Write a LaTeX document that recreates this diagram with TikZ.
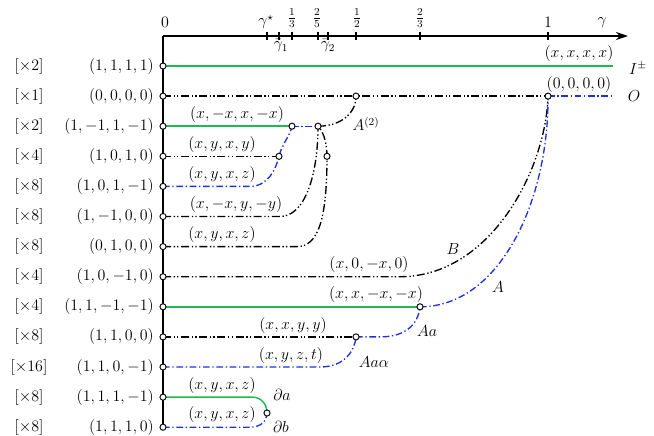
\documentclass[tikz,border=0pt]{standalone}
\usetikzlibrary{arrows.meta}
\definecolor{mygreen}{RGB}{30,185,80}
\definecolor{myblue}{RGB}{30,50,215}
\begin{document}
\begin{tikzpicture}[x=0.75pt,y=-0.75pt,
  every node/.style={font=\large},
  dotnode/.style={circle,draw=black,fill=white,inner sep=0pt,minimum size=4.6pt,line width=0.7pt},
  gline/.style={mygreen,line width=1.1pt},
  bline/.style={myblue,line width=1pt,dash pattern=on 5pt off 2pt on 1pt off 2pt},
  kline/.style={black,line width=1pt,dash pattern=on 6pt off 2pt on 1pt off 1.6pt on 1pt off 2pt},
  axisline/.style={black,line width=1.2pt},
  tickmark/.style={black,line width=0.9pt},
  lbl/.style={inner sep=1pt},
]
\useasboundingbox (0,0) rectangle (654,436);
% axis
\coordinate (O) at (163,36);
\coordinate (xend) at (628,36);
% left points
\foreach \i/\y in {1/66,2/96.1,3/126.2,4/156.3,5/186.4,6/216.5,7/246.6,8/276.7,9/306.8,10/336.9,11/367,12/397.1,13/427.2}
  \coordinate (L\i) at (163,\y);
% junctions
\coordinate (e1) at (613,66);
\coordinate (e2) at (613,96.1);
\coordinate (p2a) at (356,96.1);
\coordinate (p2b) at (548,96.1);
\coordinate (p3a) at (292,126.2);
\coordinate (p3b) at (318,126.2);
\coordinate (p4) at (279,156.3);
\coordinate (p7) at (327,156.3);
\coordinate (p9) at (420,306.8);
\coordinate (p10) at (356,336.9);
\coordinate (p12) at (267,413);

\draw[axisline,-{Stealth[length=9pt,width=6pt]}] (O) -- (xend);
\draw[axisline] (O) -- (L13);
\foreach \v in {267,279,292,318,328,356,420,548}
  \draw[tickmark] (\v,32) -- (\v,40);

\node at (165,22) {$0$};
\node at (266,22) {$\gamma^{\star}$};
\node at (292,18) {$\frac{1}{3}$};
\node at (317,18) {$\frac{2}{5}$};
\node at (357,18) {$\frac{1}{2}$};
\node at (420,18) {$\frac{2}{3}$};
\node at (548,22) {$1$};
\node at (602,23) {$\gamma$};
\node at (281,46) {$\bar\gamma_1$};
\node at (328,46) {$\bar\gamma_2$};

% connectors
\draw[gline] (L1) -- (e1);
\draw[kline] (L2) -- (p2b);
\draw[bline] (p2b) -- (e2);
\draw[gline] (L3) -- (p3a);
\draw[bline] (p3a) -- (p3b);
\draw[kline] (p3b) .. controls (340,126.2) and (356,114) .. (p2a);
\draw[kline] (L4) -- (p4);
\draw[bline] (L5) -- (250,186.4) .. controls (268,186.4) and (276,169) .. (p4) .. controls (282,144) and (290,136) .. (p3a);
\draw[kline] (L6) -- (280,216.5) .. controls (305,216.5) and (318,175) .. (p3b);
\draw[kline] (L7) -- (297,246.6) .. controls (318,246.6) and (327,220) .. (p7) .. controls (327,140) and (322,130) .. (p3b);
\draw[kline] (L8) -- (400,276.7) .. controls (490,276.7) and (546,170) .. (p2b);
\draw[gline] (L9) -- (p9);
\draw[bline] (p9) .. controls (500,306.8) and (549,200) .. (p2b);
\draw[kline] (L10) -- (p10);
\draw[bline] (p10) -- (380,336.9) .. controls (405,336.9) and (418,325) .. (p9);
\draw[bline] (L11) -- (320,367) .. controls (345,367) and (355,350) .. (p10);
\draw[gline] (L12) -- (252,397.1) .. controls (262,397.1) and (267,405) .. (p12);
\draw[bline] (L13) -- (250,427.2) .. controls (262,427.2) and (267,420) .. (p12);

% circles
\foreach \n in {L1,L2,L3,L4,L5,L6,L7,L8,L9,L10,L11,L12,L13,p2a,p2b,p3a,p3b,p4,p7,p9,p10,p12}
  \node[dotnode] (c\n) at (\n) {};

% left labels
\foreach \y/\m/\t in {66/2/{(1,1,1,1)},96.1/1/{(0,0,0,0)},126.2/2/{(1,-1,1,-1)},156.3/4/{(1,0,1,0)},186.4/8/{(1,0,1,-1)},216.5/8/{(1,-1,0,0)},246.6/8/{(0,1,0,0)},276.7/4/{(1,0,-1,0)},306.8/4/{(1,1,-1,-1)},336.9/8/{(1,1,0,0)},367/16/{(1,1,0,-1)},397.1/8/{(1,1,1,-1)},427.2/8/{(1,1,1,0)}}
{
  \node at (29,\y) {$[\times\m]$};
  \node[anchor=east,inner sep=0pt] at (154,\y) {$\t$};
}

% line labels
\node (t1) at (579,53) {$(x,x,x,x)$};
\node (n1) at (638,68) {$I^{\pm}$};
\node (t2) at (579,84) {$(0,0,0,0)$};
\node (n2) at (634,96) {$O$};
\node (t3) at (237,114) {$(x,-x,x,-x)$};
\node (n3) at (366,124) {$A^{(2)}$};
\node (t4) at (222,144) {$(x,y,x,y)$};
\node (t5) at (222,174) {$(x,y,x,z)$};
\node (t6) at (236,204) {$(x,-x,y,-y)$};
\node (t7) at (222,234) {$(x,y,x,z)$};
\node (t8) at (369,264) {$(x,0,-x,0)$};
\node (nB) at (453,249) {$B$};
\node (t9) at (376,294) {$(x,x,-x,-x)$};
\node (nA) at (498,287) {$A$};
\node (t10) at (293,325) {$(x,x,y,y)$};
\node (nAa) at (427,331) {$Aa$};
\node (t11) at (291,355) {$(x,y,z,t)$};
\node (nAaa) at (374,362) {$Aa\alpha$};
\node (t12) at (222,385) {$(x,y,x,z)$};
\node (nda) at (282,395) {$\partial a$};
\node (t13) at (222,414) {$(x,y,x,z)$};
\node (ndb) at (281,427) {$\partial b$};
\end{tikzpicture}
\end{document}
